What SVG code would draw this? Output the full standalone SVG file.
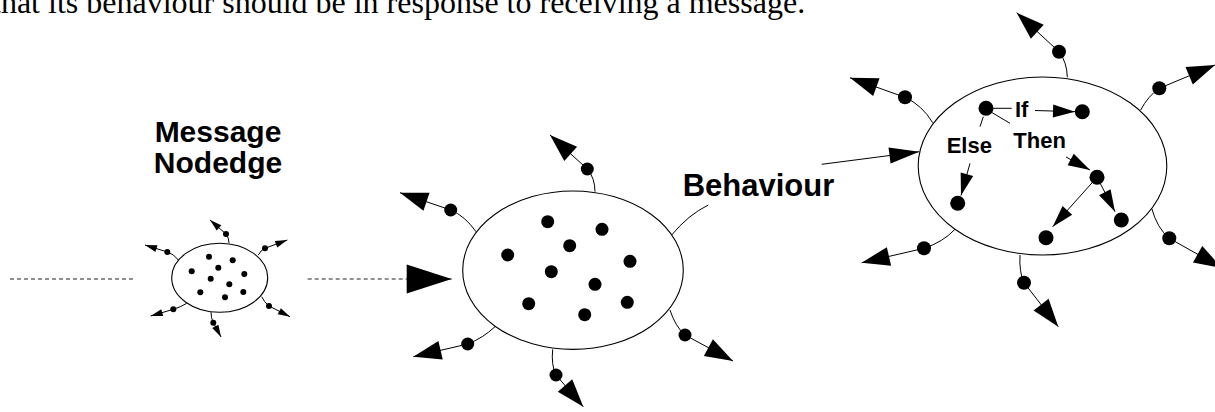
<svg xmlns="http://www.w3.org/2000/svg" width="1215" height="412" viewBox="0 0 1215 412">
  <style>
    .edge { fill: none; stroke: #000; stroke-width: 1; }
    .dash { fill: none; stroke: #222; stroke-width: 1; stroke-dasharray: 4 3; }
    .body { fill: #fff; stroke: #000; stroke-width: 1.1; }
    .dot { fill: #000; }
    .lbl { font-family: "Liberation Sans", Arial, sans-serif; font-weight: bold; fill: #000; }
    .prose { font-family: "Liberation Serif", "Times New Roman", serif; font-size: 32px; fill: #000; }
  </style>
  <defs>
    <marker id="ahS" markerUnits="userSpaceOnUse" markerWidth="12" markerHeight="8" refX="12" refY="3.5" orient="auto" overflow="visible">
      <path d="M0,0 L12,3.5 L0,7 z" fill="#000"/>
    </marker>
    <marker id="ahM" markerUnits="userSpaceOnUse" markerWidth="28" markerHeight="19" refX="28" refY="9.5" orient="auto" overflow="visible">
      <path d="M0,0 L28,9.5 L0,19 z" fill="#000"/>
    </marker>
    <marker id="ahI" markerUnits="userSpaceOnUse" markerWidth="22" markerHeight="13" refX="22" refY="6.5" orient="auto" overflow="visible">
      <path d="M0,0 L22,6.5 L0,13 z" fill="#000"/>
    </marker>
    <marker id="ahB" markerUnits="userSpaceOnUse" markerWidth="30" markerHeight="16" refX="30" refY="8" orient="auto" overflow="visible">
      <path d="M0,0 L30,8 L0,16 z" fill="#000"/>
    </marker>
    <marker id="ahL" markerUnits="userSpaceOnUse" markerWidth="45" markerHeight="29" refX="45" refY="14.5" orient="auto" overflow="visible">
      <path d="M0,0 L45,14.5 L0,29 z" fill="#000"/>
    </marker>
  </defs>

  <!-- running text line above the figure -->
  <text class="prose" x="-8" y="13">that its behaviour should be in response to receiving a message.</text>

  <!-- labels -->
  <g id="label-message">
    <text class="lbl" font-size="30" x="218" y="141.5" text-anchor="middle">Message</text>
    <text class="lbl" font-size="30" x="218" y="172.5" text-anchor="middle">Nodedge</text>
  </g>
  <g id="label-behaviour">
    <text class="lbl" font-size="31" x="682.7" y="196">Behaviour</text>
  </g>

  <!-- small message node -->
  <g id="node-small">
    <ellipse class="body" cx="219.7" cy="277.8" rx="48" ry="34.5"/>
    <circle class="dot" cx="209" cy="256.7" r="3"/>
    <circle class="dot" cx="232.7" cy="260.3" r="3"/>
    <circle class="dot" cx="218.3" cy="267.7" r="3"/>
    <circle class="dot" cx="191.7" cy="271.3" r="3"/>
    <circle class="dot" cx="244.3" cy="274" r="3"/>
    <circle class="dot" cx="210.7" cy="278.7" r="3"/>
    <circle class="dot" cx="229.3" cy="284.3" r="3"/>
    <circle class="dot" cx="200.3" cy="292.3" r="3"/>
    <circle class="dot" cx="243.3" cy="292" r="3"/>
    <circle class="dot" cx="225" cy="297.3" r="3"/>
    <circle class="dot" cx="226" cy="234" r="3"/>
    <circle class="dot" cx="167.3" cy="252" r="3"/>
    <circle class="dot" cx="265" cy="248.3" r="3"/>
    <circle class="dot" cx="173.3" cy="309.3" r="3"/>
    <circle class="dot" cx="269" cy="306" r="3"/>
    <circle class="dot" cx="213.3" cy="322.7" r="3"/>
  </g>

  <!-- medium (expanded) node -->
  <g id="node-medium">
    <ellipse class="body" cx="573" cy="270.2" rx="110.3" ry="79.2"/>
    <circle class="dot" cx="547.7" cy="221.7" r="6.5"/>
    <circle class="dot" cx="602" cy="229.3" r="6.5"/>
    <circle class="dot" cx="569.7" cy="245.7" r="6.5"/>
    <circle class="dot" cx="507.7" cy="255" r="6.5"/>
    <circle class="dot" cx="630" cy="261.3" r="6.5"/>
    <circle class="dot" cx="551.3" cy="271.7" r="6.5"/>
    <circle class="dot" cx="595" cy="284.3" r="6.5"/>
    <circle class="dot" cx="528.7" cy="303.7" r="6.5"/>
    <circle class="dot" cx="627.3" cy="302.3" r="6.5"/>
    <circle class="dot" cx="584.7" cy="314.7" r="6.5"/>
    <circle class="dot" cx="587.3" cy="169" r="6.5"/>
    <circle class="dot" cx="450.7" cy="210" r="6.5"/>
    <circle class="dot" cx="467.7" cy="344" r="6.5"/>
    <circle class="dot" cx="556" cy="375" r="6.5"/>
    <circle class="dot" cx="685" cy="335" r="6.5"/>
  </g>

  <!-- large node with behaviour -->
  <g id="node-large">
    <ellipse class="body" cx="1042.5" cy="166" rx="124.3" ry="89"/>
    <circle class="dot" cx="986" cy="108.3" r="7.5"/>
    <circle class="dot" cx="1082.3" cy="111.7" r="7.5"/>
    <circle class="dot" cx="957.7" cy="203.3" r="7.5"/>
    <circle class="dot" cx="1097" cy="177.3" r="7.5"/>
    <circle class="dot" cx="1121.3" cy="220" r="7.5"/>
    <circle class="dot" cx="1046" cy="237.7" r="7.5"/>
    <circle class="dot" cx="1059" cy="51.7" r="7"/>
    <circle class="dot" cx="905" cy="97.3" r="7"/>
    <circle class="dot" cx="1159.3" cy="88.3" r="7"/>
    <circle class="dot" cx="924" cy="248.3" r="7"/>
    <circle class="dot" cx="1024" cy="282.7" r="7"/>
    <circle class="dot" cx="1169.3" cy="238.3" r="7"/>
    <text class="lbl" font-size="22" x="1015" y="117.3">If</text>
    <text class="lbl" font-size="22" x="1013.3" y="148.3">Then</text>
    <text class="lbl" font-size="22" x="946.7" y="153.3">Else</text>
  </g>

  <!-- connectors (drawn last so the filled bodies do not hide them) -->
  <g id="connectors">
    <!-- flow: incoming dotted line, then dashed arrow into the expanded node -->
    <path class="dash" d="M10,279 L133,279"/>
    <path class="dash" d="M307.7,279 L451.7,279" marker-end="url(#ahL)"/>

    <!-- small node arcs -->
    <path class="edge" d="M229,243 Q229,238 226,234 L210,220" marker-end="url(#ahS)"/>
    <path class="edge" d="M178.3,260 Q174,254 167.3,252 L145,245" marker-end="url(#ahS)"/>
    <path class="edge" d="M258.3,255 Q261,250 265,248.3 L287.3,240" marker-end="url(#ahS)"/>
    <path class="edge" d="M186.7,303.3 Q181,307 173.3,309.3 L150.7,316" marker-end="url(#ahS)"/>
    <path class="edge" d="M261.7,296.7 Q264,302 269,306 L290,316.7" marker-end="url(#ahS)"/>
    <path class="edge" d="M211,312.3 Q211,318 213.3,322.7 L221,337" marker-end="url(#ahS)"/>

    <!-- medium node arcs -->
    <path class="edge" d="M595,191.7 Q595,178 587.3,169 L550,135" marker-end="url(#ahM)"/>
    <path class="edge" d="M476,231.7 Q465,216 450.7,210 L400,192.7" marker-end="url(#ahM)"/>
    <path class="edge" d="M495,326.7 Q483,338 467.7,344 L413.3,356.7" marker-end="url(#ahM)"/>
    <path class="edge" d="M552.7,349.3 Q551,365 556,375 L583.3,406.7" marker-end="url(#ahM)"/>
    <path class="edge" d="M670,310 Q675,326 685,335 L733,361" marker-end="url(#ahM)"/>

    <!-- behaviour leader and arrow into the large node -->
    <path class="edge" d="M671.7,235 Q688,215 708.3,205"/>
    <path class="edge" d="M821.7,164.3 L919.3,151.7" marker-end="url(#ahB)"/>

    <!-- large node arcs -->
    <path class="edge" d="M1067.3,77.3 Q1067,62 1059,51.7 L1016.7,12.7" marker-end="url(#ahM)"/>
    <path class="edge" d="M932.7,122.7 Q922,105 905,97.3 L850,77.7" marker-end="url(#ahM)"/>
    <path class="edge" d="M1140.7,110 Q1148,96 1159.3,88.3 L1215,65" marker-end="url(#ahM)"/>
    <path class="edge" d="M955,229.3 Q943,242 924,248.3 L861.7,262.7" marker-end="url(#ahM)"/>
    <path class="edge" d="M1020,255 Q1019,272 1024,282.7 L1058.3,326.7" marker-end="url(#ahM)"/>
    <path class="edge" d="M1151.7,208.3 Q1157,228 1169.3,238.3 L1222,268" marker-end="url(#ahM)"/>

    <!-- if / then / else inside the large node -->
    <path class="edge" d="M993.3,108.3 L1011.7,108.3"/>
    <path class="edge" d="M1035,110.5 L1075,111.7" marker-end="url(#ahI)"/>
    <path class="edge" d="M991,112 L1010,123.3"/>
    <path class="edge" d="M1066,157 L1090,170" marker-end="url(#ahI)"/>
    <path class="edge" d="M983.3,116.7 L980,126.7"/>
    <path class="edge" d="M970,163.3 L961,195.5" marker-end="url(#ahI)"/>
    <path class="edge" d="M1097,177.3 L1052.7,226.7" marker-end="url(#ahI)"/>
    <path class="edge" d="M1097,177.3 L1115,211.7" marker-end="url(#ahI)"/>
  </g>
</svg>
